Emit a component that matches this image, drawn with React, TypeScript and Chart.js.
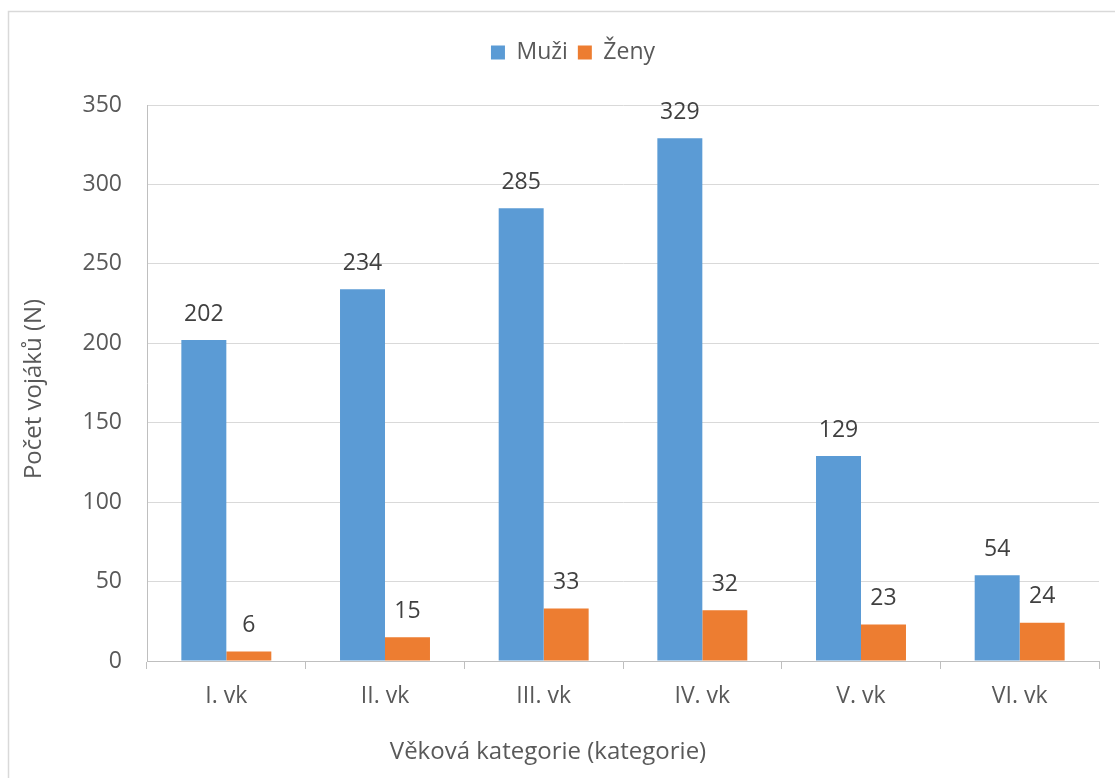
import React, { useEffect, useRef } from "react";
import { Chart, registerables } from "chart.js";

Chart.register(...registerables);

const categories = ["I. vk", "II. vk", "III. vk", "IV. vk", "V. vk", "VI. vk"];
const seriesNames = ["Muži", "Ženy"];
const muzi = [202, 234, 285, 329, 129, 54];
const zeny = [6, 15, 33, 32, 23, 24];
const yMin = 0;
const yMax = 350;
const yStep = 50;
const yAxisTitle = "Počet vojáků (N)";
const xAxisTitle = "Věková kategorie (kategorie)";

const FONT = "'Open Sans', 'DejaVu Sans', sans-serif";
const W = 1146;
const H = 778;

const frame = {
  id: "frame",
  beforeDraw(chart: any) {
    const ctx = chart.ctx;
    ctx.save();
    ctx.fillStyle = "#ffffff";
    ctx.fillRect(0, 0, chart.width, chart.height);
    ctx.strokeStyle = "#d9d9d9";
    ctx.lineWidth = 1.5;
    ctx.strokeRect(8.5, 11.5, 1129, 1000);
    ctx.restore();
  },
};

const axisTitles = {
  id: "axisTitles",
  afterDraw(chart: any) {
    const ctx = chart.ctx;
    const area = chart.chartArea;
    ctx.save();
    ctx.font = `24px ${FONT}`;
    ctx.fillStyle = "#595959";
    ctx.textAlign = "center";
    ctx.textBaseline = "middle";
    // x-axis title (centered on the chart, as in the source)
    ctx.fillText(xAxisTitle, 548, chart.height - 26);
    // y-axis title
    ctx.translate(34, (area.top + area.bottom) / 2 + 6);
    ctx.rotate(-Math.PI / 2);
    ctx.fillText(yAxisTitle, 0, 0);
    ctx.restore();
  },
};

const valueLabels = {
  id: "valueLabels",
  afterDatasetsDraw(chart: any) {
    const ctx = chart.ctx;
    ctx.save();
    ctx.font = `23px ${FONT}`;
    ctx.fillStyle = "#404040";
    ctx.textAlign = "center";
    ctx.textBaseline = "middle";
    chart.data.datasets.forEach((ds: any, i: number) => {
      const meta = chart.getDatasetMeta(i);
      meta.data.forEach((el: any, j: number) => {
        ctx.fillText(String(ds.data[j]), el.x, el.y - 26);
      });
    });
    ctx.restore();
  },
};

export default function App() {
  const ref = useRef<HTMLCanvasElement>(null);
  useEffect(() => {
    if (!ref.current) return;
    const chart = new Chart(ref.current, {
      type: "bar",
      data: {
        labels: categories,
        datasets: [
          { label: seriesNames[0], data: muzi, backgroundColor: "#5b9bd5", yAxisID: "y", xAxisID: "x" },
          { label: seriesNames[1], data: zeny, backgroundColor: "#ed7d31", yAxisID: "y", xAxisID: "x" },
        ],
      },
      options: {
        animation: false,
        responsive: false,
        maintainAspectRatio: false,
        datasets: { bar: { categoryPercentage: 0.567, barPercentage: 1.0 } },
        layout: { padding: { top: 31, left: 0, right: 0, bottom: 0 } },
        plugins: {
          legend: {
            position: "top",
            labels: {
              boxWidth: 14,
              boxHeight: 14,
              padding: 10,
              color: "#595959",
              font: { family: FONT, size: 23 },
            },
          },
          tooltip: { enabled: false },
        },
        scales: {
          x: {
            type: "category",
            position: "bottom",
            grid: {
              display: true,
              drawOnChartArea: false,
              drawTicks: true,
              tickLength: 8,
              offset: true,
              color: "#bfbfbf",
            },
            border: { display: true, color: "#bfbfbf" },
            ticks: { color: "#595959", font: { family: FONT, size: 23 }, padding: 14, maxRotation: 0 },
            title: { display: false, text: xAxisTitle },
            afterFit: (s: any) => {
              s.height = 117;
            },
          },
          xTop: {
            type: "category",
            position: "top",
            display: true,
            grid: { display: false },
            border: { display: false },
            ticks: { display: false },
            afterFit: (s: any) => {
              s.height = 31;
            },
          },
          y: {
            type: "linear",
            position: "left",
            min: yMin,
            max: yMax,
            ticks: {
              stepSize: yStep,
              color: "#595959",
              font: { family: FONT, size: 23 },
              padding: 25,
            },
            grid: { color: "#d9d9d9", drawTicks: false },
            border: { display: true, color: "#bfbfbf" },
            title: { display: false, text: yAxisTitle },
            afterFit: (s: any) => {
              s.width = 147;
            },
          },
          yRight: {
            type: "linear",
            position: "right",
            display: true,
            grid: { display: false },
            border: { display: false },
            ticks: { display: false },
            afterFit: (s: any) => {
              s.width = W - 1099;
            },
          },
        },
      },
      plugins: [frame, valueLabels, axisTitles],
    } as any);
    return () => chart.destroy();
  }, []);

  return (
    <div
      style={{
        position: "fixed",
        left: 0,
        top: 0,
        width: 1115,
        height: 778,
        overflow: "hidden",
        background: "#ffffff",
      }}
    >
      <canvas ref={ref} width={W} height={H} style={{ width: W, height: H, display: "block" }} />
    </div>
  );
}
